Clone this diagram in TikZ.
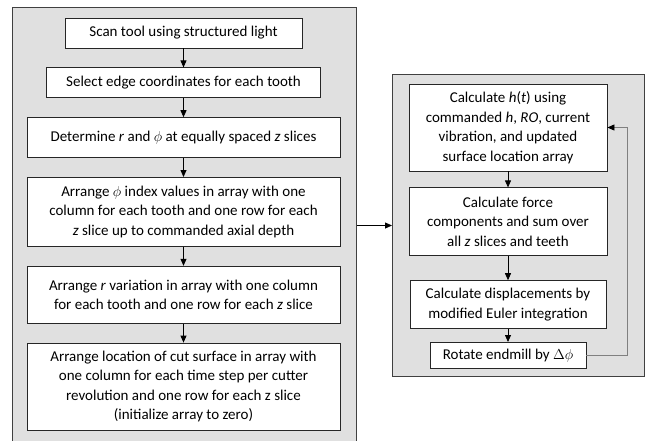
\documentclass[tikz,border=0pt]{standalone}
\usepackage{fontspec}
\setmainfont{Carlito}
\usetikzlibrary{arrows.meta}
\usetikzlibrary{chains}
\usetikzlibrary{positioning}
\tikzset{
	>={Triangle[length=7pt,width=6pt]},
	panel/.style={
		rectangle,
		draw=black!75, line width=1pt,
		fill=black!12,
		inner sep=0pt},
	stepbox/.style={
		rectangle,
		draw=black!85, line width=0.8pt,
		fill=white,
		align=center,
		inner sep=2pt,
		text=black,
		font=\fontsize{15}{19.5}\selectfont,
		on chain},
	every join/.style={->, line width=0.8pt},
	loopline/.style={draw=black!50, line width=0.8pt, -{Triangle[length=7pt,width=6pt,color=black]}},
}

\begin{document}
\begin{tikzpicture}[x=1pt, y=-1pt]
	\useasboundingbox (0,0) rectangle (648,440);
	% the two grey panels
	\node[panel, anchor=north west, minimum width=344pt, minimum height=440pt] (leftpanel) at (12,7) {};
	\node[panel, anchor=north west, minimum width=252pt, minimum height=302pt] (rightpanel) at (392,74) {};

	% preparation steps
	\begin{scope}[start chain=prep going below, node distance=19pt]
		\node[stepbox, minimum width=237pt, minimum height=30pt] at (183.5,33) (scan) {Scan tool using structured light};
		\node[stepbox, minimum width=274pt, minimum height=30pt, join] (edges) {Select edge coordinates for each tooth};
		\node[stepbox, minimum width=313pt, minimum height=40pt, join] (rphi) {Determine \textit{r} and $\phi$ at equally spaced \textit{z} slices};
		\node[stepbox, minimum width=313pt, minimum height=69pt, join] (phiarray) {Arrange $\phi$ index values in array with one\\column for each tooth and one row for each\\\textit{z} slice up to commanded axial depth};
		\node[stepbox, minimum width=313pt, minimum height=57pt, join] (rarray) {Arrange \textit{r} variation in array with one column\\for each tooth and one row for each \textit{z} slice};
		\node[stepbox, minimum width=313pt, minimum height=87pt, join] (surfarray) {Arrange location of cut surface in array with\\one column for each time step per cutter\\revolution and one row for each z slice\\(initialize array to zero)};
	\end{scope}

	% simulation loop
	\begin{scope}[start chain=sim going below, node distance=16pt]
		\node[stepbox, minimum width=198pt, minimum height=87pt] at (508,127.5) (calch) {Calculate \textit{h}(\textit{t}) using\\commanded \textit{h}, \textit{RO}, current\\vibration, and updated\\surface location array};
		\node[stepbox, minimum width=198pt, minimum height=68pt, join] (force) {Calculate force\\components and sum over\\all \textit{z} slices and teeth};
		\node[node distance=24pt, stepbox, minimum width=196pt, minimum height=48pt, join] (displ) {Calculate displacements by\\modified Euler integration};
		\node[node distance=13pt, stepbox, minimum width=156pt, minimum height=26pt, join] (rotate) {Rotate endmill by $\Delta\phi$};
	\end{scope}

	\coordinate (loopx) at (627,0);
	\draw[->, line width=0.8pt] (rightpanel.west -| leftpanel.east) -- (rightpanel.west);
	\draw[loopline] (rotate.east) -- (rotate.east -| loopx) |- (calch.east);
\end{tikzpicture}
\end{document}
